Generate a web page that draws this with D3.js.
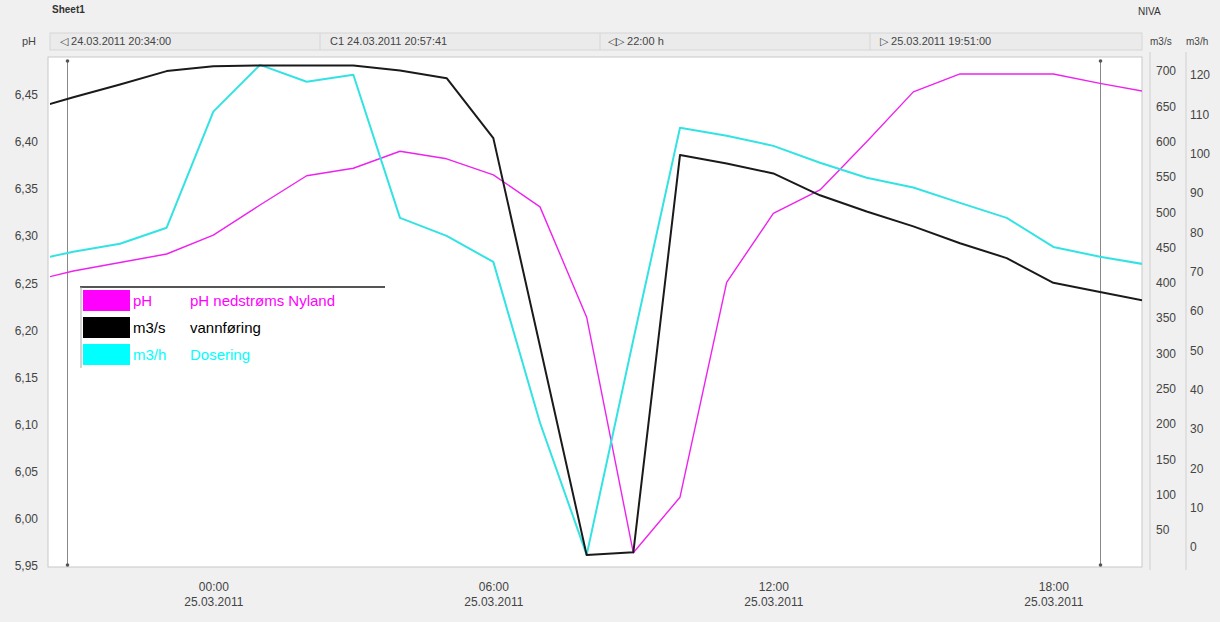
<!DOCTYPE html>
<html>
<head>
<meta charset="utf-8">
<script src="https://cdn.jsdelivr.net/npm/d3@7"></script>
<style>
  body { margin: 0; background: #f0f0f0; }
  svg { display: block; font-family: "Liberation Sans", Arial, sans-serif; }
  .lbl { font-size: 12px; fill: #444; }
</style>
</head>
<body>
<div id="chart"></div>
<script>
// hourly samples
var hours = ["2011-03-24T20:00", "2011-03-24T21:00", "2011-03-24T22:00", "2011-03-24T23:00",
  "2011-03-25T00:00", "2011-03-25T01:00", "2011-03-25T02:00", "2011-03-25T03:00",
  "2011-03-25T04:00", "2011-03-25T05:00", "2011-03-25T06:00", "2011-03-25T07:00",
  "2011-03-25T08:00", "2011-03-25T09:00", "2011-03-25T10:00", "2011-03-25T11:00",
  "2011-03-25T12:00", "2011-03-25T13:00", "2011-03-25T14:00", "2011-03-25T15:00",
  "2011-03-25T16:00", "2011-03-25T17:00", "2011-03-25T18:00", "2011-03-25T19:00",
  "2011-03-25T20:00"];

var phValues = [6.251, 6.263, 6.272, 6.281, 6.301, 6.333, 6.364, 6.372, 6.390, 6.382, 6.365, 6.331,
  6.214, 5.964, 6.023, 6.251, 6.324, 6.349, 6.400, 6.453, 6.472, 6.472, 6.472, 6.462, 6.453];
var flowValues = [644, 663, 681, 700, 707, 708, 708, 708, 701, 690, 605, 310,
  14, 18, 581, 569, 555, 524, 501, 480, 456, 435, 400, 387, 374];
var doseValues = [72.5, 75.1, 77.1, 81.2, 110.7, 122.6, 118.3, 120.1, 83.7, 79.1, 72.5, 31.6,
  -2.0, 52.7, 106.6, 104.6, 102.0, 97.7, 93.9, 91.4, 87.5, 83.7, 76.3, 73.8, 71.8];

var phTicks = [5.95, 6.00, 6.05, 6.10, 6.15, 6.20, 6.25, 6.30, 6.35, 6.40, 6.45];
var flowTicks = [50, 100, 150, 200, 250, 300, 350, 400, 450, 500, 550, 600, 650, 700];
var doseTicks = [0, 10, 20, 30, 40, 50, 60, 70, 80, 90, 100, 110, 120];
var timeTicks = ["2011-03-25T00:00", "2011-03-25T06:00", "2011-03-25T12:00", "2011-03-25T18:00"];

var legendItems = [
  {unit: "pH", name: "pH nedstrøms Nyland", color: "#ff00ff"},
  {unit: "m3/s", name: "vannføring", color: "#000000"},
  {unit: "m3/h", name: "Dosering", color: "#00ffff"}
];

var headerTexts = [
  {x: 60, t: "\u25C1 24.03.2011 20:34:00"},
  {x: 330, t: "C1 24.03.2011 20:57:41"},
  {x: 608, t: "\u25C1\u25B7 22:00 h"},
  {x: 880, t: "\u25B7 25.03.2011 19:51:00"}
];

var W = 1220, H = 622;
var L = 48, R = 1142, T = 57, B = 567;

var parse = d3.timeParse("%Y-%m-%dT%H:%M");
var fmtH = d3.timeFormat("%H:%M"), fmtD = d3.timeFormat("%d.%m.%Y");

var svg = d3.select("#chart").append("svg")
    .attr("width", W)
    .attr("height", H);

svg.append("rect").attr("width", W).attr("height", H).attr("fill", "#f0f0f0");

// header
svg.append("text").attr("x", 52).attr("y", 13).attr("font-size", 10).attr("font-weight", "bold")
    .attr("fill", "#333").text("Sheet1");
svg.append("text").attr("x", 1138).attr("y", 15).attr("font-size", 10).attr("fill", "#333").text("NIVA");

svg.append("rect").attr("x", 50).attr("y", 33).attr("width", R - 50).attr("height", 17)
    .attr("fill", "#ebebeb").attr("stroke", "#d6d6d6");
[320, 600, 870].forEach(function(x) {
  svg.append("line").attr("x1", x).attr("x2", x).attr("y1", 33).attr("y2", 50).attr("stroke", "#d6d6d6");
});
svg.selectAll("text.hdr").data(headerTexts).enter().append("text")
    .attr("class", "hdr").attr("x", d => d.x).attr("y", 45)
    .attr("font-size", 11).attr("fill", "#444").text(d => d.t);
svg.append("text").attr("x", 22).attr("y", 45).attr("font-size", 11).attr("fill", "#444").text("pH");
svg.append("text").attr("x", 1150).attr("y", 45).attr("font-size", 10).attr("fill", "#444").text("m3/s");
svg.append("text").attr("x", 1186).attr("y", 45).attr("font-size", 10).attr("fill", "#444").text("m3/h");

// plot area
svg.append("rect").attr("x", L).attr("y", T).attr("width", R - L).attr("height", B - T)
    .attr("fill", "#ffffff").attr("stroke", "#c8c8c8");
svg.append("line").attr("x1", 1150).attr("x2", 1150).attr("y1", 52).attr("y2", 570).attr("stroke", "#d0d0d0");
svg.append("line").attr("x1", 1186).attr("x2", 1186).attr("y1", 52).attr("y2", 570).attr("stroke", "#d0d0d0");

var x = d3.scaleTime()
    .domain([parse("2011-03-24T20:30"), parse("2011-03-25T19:54")])
    .range([50, R]);
var yPh = d3.scaleLinear().domain([5.95, 6.49]).range([566, 57]);
var yFlow = d3.scaleLinear().domain([0, 720]).range([565, 57]);
var yDose = d3.scaleLinear().domain([-5.08, 124.6]).range([567, 57]);

// axes
var gPh = svg.append("g").attr("transform", "translate(40,0)")
    .call(d3.axisLeft(yPh).tickValues(phTicks).tickSize(0)
      .tickFormat(d => d3.format(".2f")(d).replace(".", ",")));
var gFlow = svg.append("g").attr("transform", "translate(1154,0)")
    .call(d3.axisRight(yFlow).tickValues(flowTicks).tickSize(0));
var gDose = svg.append("g").attr("transform", "translate(1188,0)")
    .call(d3.axisRight(yDose).tickValues(doseTicks).tickSize(0));
[gPh, gFlow, gDose].forEach(function(g) {
  g.select(".domain").remove();
  g.selectAll("text").attr("class", "lbl").attr("fill", null)
      .style("font-family", "Liberation Sans, Arial, sans-serif");
});
gPh.selectAll(".tick text").attr("x", -2);
gFlow.selectAll(".tick text").attr("x", 2);
gDose.selectAll(".tick text").attr("x", 2);

var gx = svg.append("g").attr("transform", "translate(0," + B + ")")
    .call(d3.axisBottom(x).tickValues(timeTicks.map(parse)).tickSize(0).tickFormat(""));
gx.select(".domain").remove();
gx.selectAll(".tick").each(function(d) {
  var t = d3.select(this).append("text").attr("class", "lbl").attr("text-anchor", "middle");
  t.append("tspan").attr("x", 0).attr("y", 24).text(fmtH(d));
  t.append("tspan").attr("x", 0).attr("y", 39).text(fmtD(d));
});

// cursor lines
[parse("2011-03-24T20:52"), parse("2011-03-25T19:00")].forEach(function(c) {
  var cx = Math.round(x(c)) + 0.5;
  svg.append("line").attr("x1", cx).attr("x2", cx).attr("y1", 61).attr("y2", 565)
      .attr("stroke", "#888").attr("stroke-width", 1);
  svg.append("circle").attr("cx", cx).attr("cy", 61).attr("r", 1.8).attr("fill", "#555");
  svg.append("circle").attr("cx", cx).attr("cy", 565).attr("r", 1.8).attr("fill", "#555");
});

// lines
svg.append("clipPath").attr("id", "clip").append("rect")
    .attr("x", 50).attr("y", T).attr("width", R - 50).attr("height", B - T);
var times = hours.map(parse);
var series = [
  {vals: phValues, y: yPh, color: "#ee22ee", w: 1.4},
  {vals: doseValues, y: yDose, color: "#33e3e3", w: 2},
  {vals: flowValues, y: yFlow, color: "#1a1a1a", w: 2}
];
var gl = svg.append("g").attr("clip-path", "url(#clip)");
series.forEach(function(s) {
  var line = d3.line().x((d, i) => x(times[i])).y(d => s.y(d));
  gl.append("path").datum(s.vals).attr("d", line)
      .attr("fill", "none").attr("stroke", s.color).attr("stroke-width", s.w)
      .attr("stroke-linejoin", "round");
});

// legend
var lg = svg.append("g");
lg.append("line").attr("x1", 80).attr("x2", 385).attr("y1", 287).attr("y2", 287)
    .attr("stroke", "#555").attr("stroke-width", 2);
lg.append("line").attr("x1", 81).attr("x2", 81).attr("y1", 287).attr("y2", 368)
    .attr("stroke", "#aaa").attr("stroke-width", 1);
var rows = lg.selectAll("g.row").data(legendItems).enter().append("g")
    .attr("transform", (d, i) => "translate(0," + (290 + i * 27) + ")");
rows.append("rect").attr("x", 83).attr("y", 0).attr("width", 47).attr("height", 21).attr("fill", d => d.color);
rows.append("text").attr("x", 133).attr("y", 16).attr("font-size", 15).attr("fill", d => d.color).text(d => d.unit);
rows.append("text").attr("x", 190).attr("y", 16).attr("font-size", 15).attr("fill", d => d.color).text(d => d.name);
</script>
</body>
</html>
